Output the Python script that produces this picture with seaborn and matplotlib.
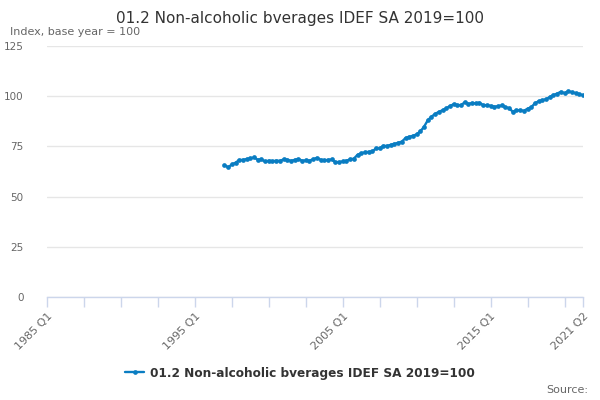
import matplotlib
matplotlib.use("Agg")
import matplotlib.pyplot as plt
import seaborn as sns
import pandas as pd

# Full quarterly axis: 1985 Q1 .. 2021 Q2
years = list(range(1985, 2022))
quarters = [f"{y} Q{q}" for y in years for q in range(1, 5)]
quarters = quarters[:quarters.index("2021 Q2") + 1]

first_quarter = "1997 Q1"
values = [
    65.7, 64.6, 66.0, 66.9,   # 1997
    68.2, 68.3, 68.7, 69.0,   # 1998
    69.5, 68.4, 68.5, 67.5,   # 1999
    67.9, 67.6, 67.9, 67.8,   # 2000
    68.5, 68.4, 67.8, 68.3,   # 2001
    68.7, 67.9, 68.0, 67.9,   # 2002
    68.6, 69.3, 68.4, 68.0,   # 2003
    68.3, 68.5, 67.2, 67.2,   # 2004
    67.5, 67.9, 68.5, 68.9,   # 2005
    70.8, 71.6, 72.0, 72.3,   # 2006
    72.5, 74.0, 74.0, 75.3,   # 2007
    75.2, 75.8, 76.3, 76.8,   # 2008
    77.4, 79.2, 79.8, 80.3,   # 2009
    81.0, 82.5, 84.8, 88.0,   # 2010
    89.8, 91.2, 92.2, 93.0,   # 2011
    94.0, 95.1, 96.0, 95.6,   # 2012
    95.5, 97.0, 96.2, 96.6,   # 2013
    96.4, 96.8, 95.5, 95.5,   # 2014
    95.2, 94.8, 95.0, 95.4,   # 2015
    94.6, 94.0, 92.3, 93.0,   # 2016
    93.0, 92.7, 93.8, 94.5,   # 2017
    96.5, 97.5, 98.0, 98.5,   # 2018
    99.6, 100.6, 101.3, 102.2,  # 2019
    101.5, 102.5, 102.0, 101.5,  # 2020
    101.0, 100.5,             # 2021
]
series_name = "01.2 Non-alcoholic bverages IDEF SA 2019=100"
title = "01.2 Non-alcoholic bverages IDEF SA 2019=100"
subtitle = "Index, base year = 100"
yticks = [0, 25, 50, 75, 100, 125]
xlabel_quarters = ["1985 Q1", "1995 Q1", "2005 Q1", "2015 Q1", "2021 Q2"]

start = quarters.index(first_quarter)
df = pd.DataFrame({
    "pos": list(range(start, start + len(values))),
    "value": values,
    "series": series_name,
})

sns.set_theme(style="white")
plt.rcParams["font.family"] = ["DejaVu Sans"]

fig = plt.figure(figsize=(6, 4), dpi=100)
ax = fig.add_axes([47 / 600, 103 / 400, 536 / 600, 251 / 400])

line_color = "#0a7dc2"
sns.lineplot(data=df, x="pos", y="value", hue="series", palette=[line_color],
             marker="o", markersize=3.4, markeredgewidth=0, linewidth=1.7,
             ax=ax, legend=True)

ax.set_xlim(0, len(quarters) - 1)
ax.set_ylim(0, 125)
ax.set_yticks(yticks)
ax.set_yticklabels([str(v) for v in yticks], fontsize=7.5, color="#666666")
ax.grid(axis="y", color="#e6e6e6", linewidth=1)
ax.set_axisbelow(True)

minor_pos = list(range(0, len(quarters), 10)) + [len(quarters) - 1]
ax.set_xticks(minor_pos, minor=True)
major_pos = [quarters.index(q) for q in xlabel_quarters]
ax.set_xticks(major_pos)
ax.set_xticklabels(xlabel_quarters, rotation=45, ha="right", rotation_mode="anchor",
                   fontsize=8, color="#666666")
ax.tick_params(axis="x", which="both", direction="out", length=7, width=1,
               color="#ccd6eb", bottom=True, pad=3)
ax.tick_params(axis="y", length=0, pad=17)
for lab in ax.get_yticklabels():
    lab.set_horizontalalignment("right")

for s in ["top", "right", "left"]:
    ax.spines[s].set_visible(False)
ax.spines["bottom"].set_color("#ccd6eb")
ax.spines["bottom"].set_linewidth(1)
ax.set_xlabel("")
ax.set_ylabel("")

handles, labels = ax.get_legend_handles_labels()
ax.legend_.remove()
leg = fig.legend(handles, labels, loc="center", bbox_to_anchor=(0.5, 1 - 373 / 400),
                 frameon=False, fontsize=8.7, handlelength=1.6, handletextpad=0.5)
for t in leg.get_texts():
    t.set_fontweight("bold")
    t.set_color("#333333")

fig.text(0.5, 1 - 18 / 400, title, ha="center", va="center", fontsize=11, color="#333333")
fig.text(10 / 600, 1 - 32 / 400, subtitle, ha="left", va="center", fontsize=8, color="#666666")
fig.text(588 / 600, 1 - 390 / 400, "Source:", ha="right", va="center", fontsize=8, color="#666666")

fig.savefig("out.png", dpi=100)
